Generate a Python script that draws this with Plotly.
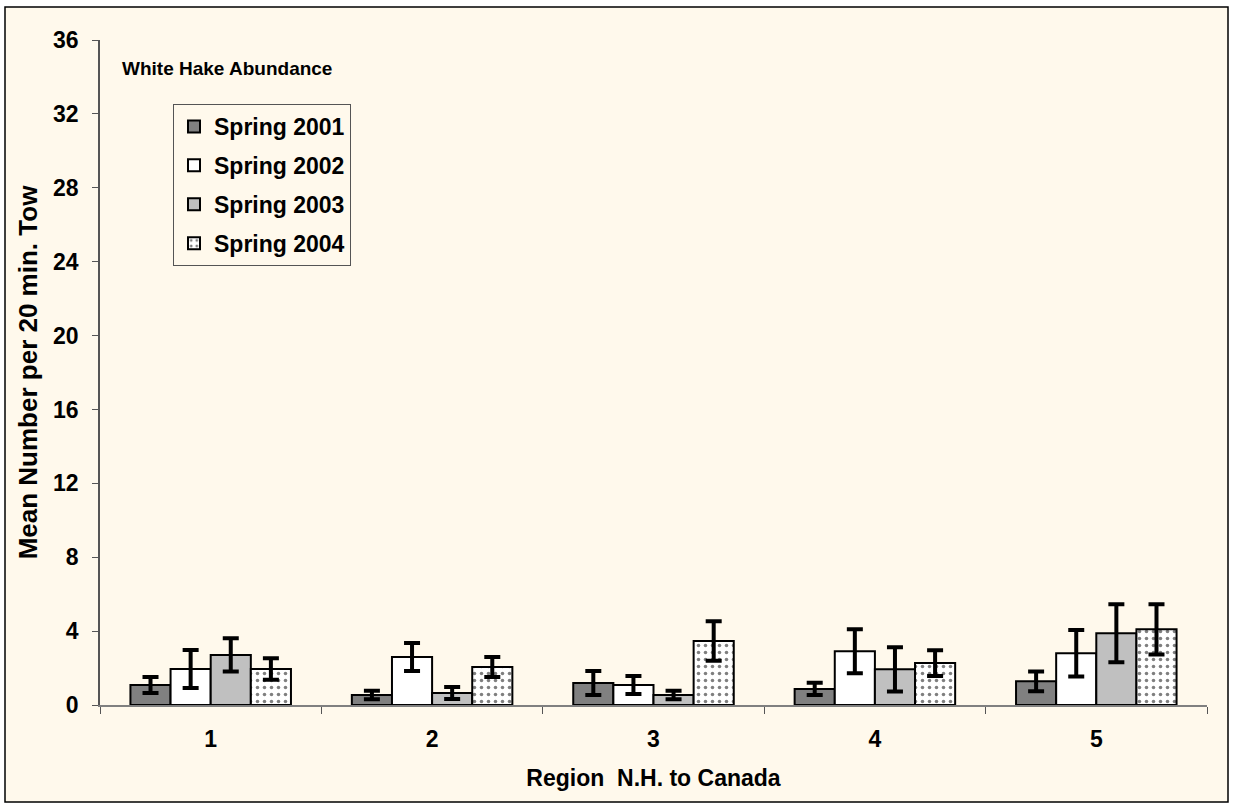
import plotly.graph_objects as go

regions = ["1", "2", "3", "4", "5"]
series_names = ["Spring 2001", "Spring 2002", "Spring 2003", "Spring 2004"]
s2001 = [1.08, 0.54, 1.19, 0.87, 1.28]
s2002 = [1.95, 2.60, 1.08, 2.91, 2.80]
s2003 = [2.71, 0.65, 0.54, 1.93, 3.88]
s2004 = [1.95, 2.06, 3.47, 2.27, 4.10]
e2001 = [0.43, 0.23, 0.65, 0.33, 0.54]
e2002 = [1.03, 0.76, 0.49, 1.19, 1.26]
e2003 = [0.90, 0.33, 0.23, 1.20, 1.57]
e2004 = [0.58, 0.54, 1.07, 0.70, 1.36]
y_ticks = [0, 4, 8, 12, 16, 20, 24, 28, 32, 36]

FONT = "Liberation Sans, Arial, sans-serif"
BG = "#FFF9EC"

values = [s2001, s2002, s2003, s2004]
errors = [e2001, e2002, e2003, e2004]
fills = ["#808080", "#FFFFFF", "#C0C0C0", "#FFFFFF"]

fig = go.Figure()
for i, (name, v, e, c) in enumerate(zip(series_names, values, errors, fills)):
    marker = dict(color=c, line=dict(color="black", width=2))
    if i == 3:
        marker["pattern"] = dict(shape=".", fgcolor="black", bgcolor="white",
                                 size=7, solidity=0.2, fillmode="overlay")
    fig.add_trace(go.Bar(
        x=regions, y=v, name="<b>" + name + "</b>", marker=marker, legendgroup=name,
        error_y=dict(type="data", array=e, visible=True, color="black",
                     thickness=4, width=8),
    ))

L, R, T, B = 100, 26, 40, 99
W, H = 1233, 804
pw, ph = W - L - R, H - T - B

fig.add_shape(type="rect", xref="paper", yref="paper",
              x0=(5 - L) / pw, x1=(1228 - L) / pw,
              y0=(H - B - 802) / ph, y1=(H - B - 7) / ph,
              line=dict(color="black", width=1.5), fillcolor=BG, layer="below")

fig.add_annotation(text="<b>White Hake Abundance</b>", xref="paper", yref="paper",
                   x=(120 - L) / pw, y=(H - B - 68) / ph, xanchor="left", yanchor="middle",
                   showarrow=False, font=dict(family=FONT, size=19, color="black"))

fig.update_layout(
    width=W, height=H,
    margin=dict(l=L, r=R, t=T, b=B),
    paper_bgcolor="white",
    plot_bgcolor=BG,
    barmode="group",
    bargap=0.275,
    bargroupgap=0.0,
    font=dict(family=FONT, size=23, color="black"),
    legend=dict(x=(173 - L) / pw, y=(H - B - 104) / ph, xanchor="left", yanchor="top",
                bgcolor=BG, bordercolor="#555555", borderwidth=1,
                font=dict(family=FONT, size=23, color="black"),
                tracegroupgap=6, traceorder="grouped", itemwidth=30),
    xaxis=dict(
        showline=True, linecolor="#808080", linewidth=1.5,
        ticks="outside", ticklen=7, tickcolor="#555555", tickson="boundaries",
        ticklabelstandoff=13,
        tickfont=dict(family=FONT, size=23, color="black", weight="bold"),
        title=dict(text="<b>Region  N.H. to Canada</b>", font=dict(family=FONT, size=23), standoff=19),
        showgrid=False,
    ),
    yaxis=dict(
        range=[0, 36], tickvals=y_ticks,
        showline=True, linecolor="#555555", linewidth=1.5,
        ticks="outside", ticklen=6, tickcolor="#555555",
        ticklabelstandoff=9,
        tickfont=dict(family=FONT, size=23, color="black", weight="bold"),
        title=dict(text="<b>Mean Number per 20 min. Tow</b>", font=dict(family=FONT, size=26), standoff=8),
        showgrid=False, zeroline=False,
    ),
)

fig.write_html("out.html", config={"displayModeBar": False},
               post_script="document.body.style.margin='0';")
